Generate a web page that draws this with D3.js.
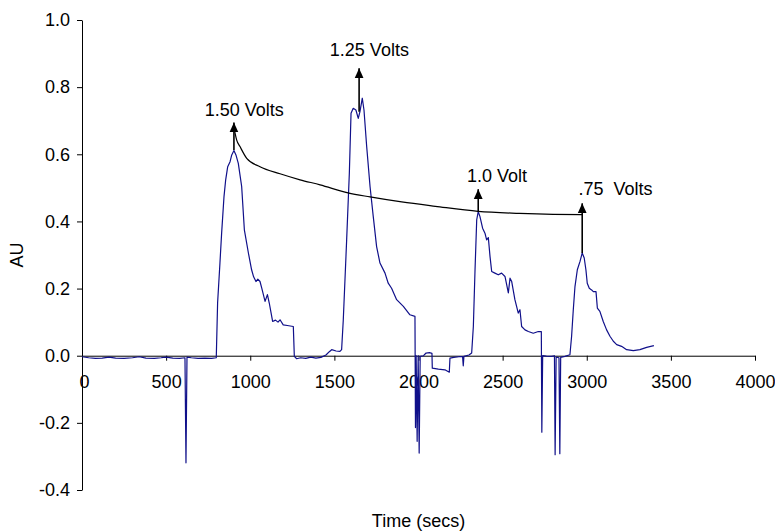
<!DOCTYPE html>
<html>
<head>
<meta charset="utf-8">
<script src="https://cdn.jsdelivr.net/npm/d3@7"></script>
<style>
  body { margin: 0; background: #fff; }
  svg { display: block; font-family: Arial, 'Liberation Sans', sans-serif; }
</style>
</head>
<body>
<div id="chart"></div>
<script>
// x ticks and y ticks
const xTicks = [0, 500, 1000, 1500, 2000, 2500, 3000, 3500, 4000]
const yTicks = [-0.4, -0.2, 0.0, 0.2, 0.4, 0.6, 0.8, 1.0]

// detector trace: [time (secs), AU]
const trace = [
  [0,-0.003],[40,-0.006],[80,-0.008],[120,-0.007],[160,-0.004],[200,-0.007],[250,-0.008],[300,-0.006],
  [340,-0.003],[380,-0.007],[430,-0.008],[470,-0.006],[500,-0.004],[540,-0.007],[580,-0.008],[612,-0.006],
  [618,-0.319],[624,-0.004],[650,-0.006],[690,-0.008],[730,-0.007],[770,-0.008],[798,-0.006],
  [806,0.158],[820,0.277],[830,0.366],[844,0.474],[854,0.524],[866,0.563],[880,0.578],[890,0.598],
  [903,0.611],[915,0.598],[929,0.573],[949,0.504],[965,0.375],[989,0.306],[1008,0.256],[1020,0.235],
  [1034,0.221],[1045,0.228],[1058,0.221],[1068,0.202],[1088,0.162],[1102,0.182],[1113,0.157],[1133,0.102],
  [1150,0.106],[1165,0.100],[1177,0.107],[1196,0.092],[1220,0.090],[1256,0.087],[1262,-0.002],[1276,-0.009],
  [1300,-0.006],[1330,-0.008],[1360,-0.004],[1390,-0.007],[1420,-0.005],[1450,0.002],[1470,0.012],[1484,0.018],
  [1510,0.014],[1533,0.013],[1543,0.018],
  [1553,0.107],[1573,0.345],[1589,0.544],[1599,0.722],[1612,0.737],[1628,0.732],[1642,0.707],[1652,0.727],
  [1666,0.767],[1676,0.732],[1692,0.623],[1712,0.504],[1731,0.415],[1751,0.325],[1771,0.276],[1801,0.246],
  [1820,0.216],[1840,0.201],[1870,0.167],[1910,0.147],[1949,0.122],[1979,0.117],[1982,-0.214],[1986,0.0],
  [1992,-0.255],[1998,0.0],[2004,-0.29],[2010,-0.002],[2030,0.0],[2045,0.008],[2065,0.009],[2080,0.007],
  [2082,-0.037],[2118,-0.04],[2157,-0.042],[2183,-0.049],[2187,-0.007],[2210,-0.005],[2240,-0.003],[2262,-0.003],
  [2266,-0.03],[2270,-0.002],[2300,0.002],[2316,0.008],
  [2326,0.087],[2336,0.256],[2346,0.405],[2355,0.429],[2365,0.415],[2381,0.38],[2395,0.365],[2405,0.345],
  [2415,0.352],[2425,0.296],[2435,0.251],[2454,0.246],[2474,0.241],[2494,0.246],[2514,0.236],[2534,0.187],
  [2544,0.231],[2554,0.221],[2573,0.167],[2593,0.127],[2603,0.137],[2613,0.087],[2633,0.077],[2653,0.072],
  [2682,0.067],[2712,0.072],[2730,0.072],[2733,-0.228],[2738,0.0],[2760,-0.001],[2790,-0.002],[2808,0.0],
  [2812,-0.295],[2818,-0.004],[2835,-0.006],[2840,-0.292],[2845,-0.005],[2870,-0.002],[2900,0.003],
  [2910,0.058],[2920,0.137],[2930,0.206],[2944,0.256],[2960,0.281],[2973,0.306],[2985,0.291],[2995,0.256],
  [3003,0.216],[3015,0.201],[3029,0.196],[3039,0.191],[3055,0.191],[3063,0.142],[3078,0.132],[3098,0.102],
  [3118,0.077],[3138,0.058],[3158,0.043],[3178,0.033],[3207,0.028],[3237,0.018],[3277,0.015],[3316,0.018],
  [3356,0.025],[3399,0.03]
]

// black decay curve joining the peak tops
const decay = [
  [905,0.675],[919,0.643],[939,0.623],[979,0.588],[1058,0.563],[1177,0.542],[1296,0.524],[1415,0.509],
  [1581,0.485],[1712,0.473],[1900,0.458],[2100,0.445],[2354,0.43],[2600,0.424],[2800,0.421],[2972,0.42]
]

// arrow annotations
const voltLabels = ['1.50 Volts', '1.25 Volts', '1.0 Volt', '.75  Volts']
const arrowTime  = [903, 1647, 2355, 2973]
const arrowFrom  = [0.613, 0.727, 0.43, 0.306]
const arrowTo    = [0.695, 0.856, 0.496, 0.454]
const labelTime  = [964, 1708, 2466, 3171]
const labelAU    = [0.713, 0.893, 0.516, 0.479]

const width = 775, height = 531
const margin = {top: 20, right: 20, bottom: 41, left: 82}

const svg = d3.select('#chart').append('svg')
  .attr('width', width)
  .attr('height', height)

const x = d3.scaleLinear().domain([0, 4000]).range([margin.left, 755])
const y = d3.scaleLinear().domain([-0.4, 1.0]).range([height - margin.bottom, margin.top])

// plain hyphen for negatives, like the original
const fmtY = d => d3.format('.1f')(d).replace('\u2212', '-')

svg.append('defs').append('marker')
  .attr('id', 'head')
  .attr('markerUnits', 'userSpaceOnUse')
  .attr('viewBox', '0 -5 10 10')
  .attr('refX', 10).attr('refY', 0)
  .attr('markerWidth', 10).attr('markerHeight', 10)
  .attr('orient', 'auto')
  .append('path')
  .attr('d', 'M0,-4.5L10,0L0,4.5Z')
  .attr('fill', '#000')

// y axis
svg.append('g')
  .attr('transform', `translate(${ margin.left },0)`)
  .call(d3.axisLeft(y).tickValues(yTicks).tickFormat(fmtY).tickSize(5).tickPadding(7).tickSizeOuter(0))
  .call(g => g.selectAll('text').attr('font-size', 18).attr('fill', '#000').attr('font-family', null))
  .call(g => g.selectAll('line, path').attr('stroke', '#000'))

// x axis sits on AU = 0
svg.append('g')
  .attr('transform', `translate(0,${ y(0) })`)
  .call(d3.axisBottom(x).tickValues(xTicks).tickFormat(d3.format('d')).tickSize(5).tickPadding(15).tickSizeOuter(0))
  .call(g => g.selectAll('text').attr('font-size', 18).attr('fill', '#000').attr('font-family', null))
  .call(g => g.selectAll('line, path').attr('stroke', '#000'))
  .call(g => g.select('.tick text').attr('dx', 2))

svg.append('path')
  .datum(trace)
  .attr('fill', 'none')
  .attr('stroke', '#10108a')
  .attr('stroke-width', 1.2)
  .attr('stroke-linejoin', 'round')
  .attr('d', d3.line().x(d => x(d[0])).y(d => y(d[1])))

svg.append('path')
  .datum(decay)
  .attr('fill', 'none')
  .attr('stroke', '#000')
  .attr('stroke-width', 1.2)
  .attr('d', d3.line().curve(d3.curveMonotoneX).x(d => x(d[0])).y(d => y(d[1])))

voltLabels.forEach((label, i) => {
  svg.append('line')
    .attr('x1', x(arrowTime[ i ])).attr('x2', x(arrowTime[ i ]))
    .attr('y1', y(arrowFrom[ i ])).attr('y2', y(arrowTo[ i ]))
    .attr('stroke', '#000')
    .attr('stroke-width', 1.6)
    .attr('marker-end', 'url(#head)')
  svg.append('text')
    .attr('x', x(labelTime[ i ]))
    .attr('y', y(labelAU[ i ]))
    .attr('text-anchor', 'middle')
    .attr('font-size', 18)
    .style('white-space', 'pre')
    .text(label)
})

svg.append('text')
  .attr('transform', `translate(23,${ (y(1) + y(-0.4)) / 2 }) rotate(-90)`)
  .attr('text-anchor', 'middle')
  .attr('font-size', 18)
  .text('AU')

svg.append('text')
  .attr('x', (x(0) + x(4000)) / 2)
  .attr('y', 527)
  .attr('text-anchor', 'middle')
  .attr('font-size', 18)
  .text('Time (secs)')
</script>
</body>
</html>
